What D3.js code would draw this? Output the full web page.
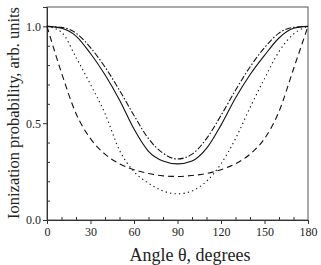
<!DOCTYPE html>
<html>
<head>
<meta charset="utf-8">
<script src="https://cdn.jsdelivr.net/npm/d3@7"></script>
<style>
  body { margin: 0; background: #fff; }
  text { font-family: "Liberation Serif", "Times New Roman", serif; fill: #222; }
</style>
</head>
<body>
<div class="chart"></div>
<script>
// angles in degrees, probabilities
const angles = [0, 10, 20, 30, 40, 50, 60, 70, 80, 90, 100, 110, 120, 130, 140, 150, 160, 170, 180];
const solid = [1.0, 0.99, 0.95, 0.86, 0.75, 0.62, 0.47, 0.355, 0.305, 0.29, 0.305, 0.37, 0.49, 0.63, 0.75, 0.85, 0.94, 0.99, 1.0];
const dashDot = [1.0, 0.995, 0.965, 0.89, 0.79, 0.67, 0.54, 0.42, 0.345, 0.315, 0.34, 0.42, 0.54, 0.67, 0.79, 0.89, 0.965, 0.995, 1.0];
const dashed = [1.0, 0.76, 0.55, 0.42, 0.34, 0.29, 0.26, 0.24, 0.228, 0.225, 0.23, 0.24, 0.26, 0.29, 0.34, 0.42, 0.56, 0.78, 1.0];
const dotted = [1.0, 0.97, 0.84, 0.70, 0.55, 0.36, 0.25, 0.19, 0.15, 0.135, 0.15, 0.20, 0.29, 0.42, 0.58, 0.73, 0.87, 0.96, 1.0];

const xTicks = [0, 30, 60, 90, 120, 150, 180];
const yTicks = [0.0, 0.5, 1.0];

const width = 321, height = 265;
const margin = {top: 7, right: 13, bottom: 45, left: 47};

const svg = d3.select('.chart').append('svg')
    .attr('width', width)
    .attr('height', height);

const x = d3.scaleLinear().domain([0, 180]).range([margin.left, width - margin.right]);
const y = d3.scaleLinear().domain([0, 1.1]).range([height - margin.bottom, margin.top]);

// frame
svg.append('rect')
    .attr('x', x(0)).attr('y', y(1.1))
    .attr('width', x(180) - x(0)).attr('height', y(0) - y(1.1))
    .attr('fill', 'none').attr('stroke', '#555').attr('stroke-width', 1);

// minor ticks (inside)
const xMinor = d3.range(0, 181, 10).filter(d => d % 30 !== 0);
svg.append('g')
    .attr('transform', `translate(0,${y(0)})`)
    .call(d3.axisBottom(x).tickValues(xMinor).tickSize(-3).tickFormat(''))
    .call(g => g.select('.domain').remove())
    .selectAll('line').attr('stroke', '#333');

const yMinor = d3.range(1, 11).map(d => d / 10).filter(d => Math.abs(d - 0.5) > 1e-6 && Math.abs(d - 1) > 1e-6);
svg.append('g')
    .attr('transform', `translate(${x(0)},0)`)
    .call(d3.axisLeft(y).tickValues(yMinor).tickSize(-3).tickFormat(''))
    .call(g => g.select('.domain').remove())
    .selectAll('line').attr('stroke', '#333');

// major axes
const xAxis = svg.append('g')
    .attr('transform', `translate(0,${y(0)})`)
    .call(d3.axisBottom(x).tickValues(xTicks).tickSize(4).tickPadding(3).tickFormat(d3.format('d')));
xAxis.select('.domain').attr('stroke', '#333');
xAxis.selectAll('line').attr('stroke', '#333');
xAxis.selectAll('text').attr('font-size', 12).attr('font-family', 'Liberation Serif').attr('fill', '#222');

const yAxis = svg.append('g')
    .attr('transform', `translate(${x(0)},0)`)
    .call(d3.axisLeft(y).tickValues(yTicks).tickSize(4).tickPadding(2).tickFormat(d3.format('.1f')));
yAxis.select('.domain').attr('stroke', '#333');
yAxis.selectAll('line').attr('stroke', '#333');
yAxis.selectAll('text').attr('font-size', 12).attr('font-family', 'Liberation Serif').attr('fill', '#222');

// curves
const series = [
    {name: 'solid', values: solid, dash: null},
    {name: 'dashDot', values: dashDot, dash: '6,2,1.5,2'},
    {name: 'dashed', values: dashed, dash: '6,4'},
    {name: 'dotted', values: dotted, dash: '1.3,3.2'}
];

const line = d3.line()
    .x(d => x(d[0]))
    .y(d => y(d[1]))
    .curve(d3.curveMonotoneX);

svg.append('g').selectAll('path')
    .data(series)
    .enter()
    .append('path')
    .attr('fill', 'none')
    .attr('stroke', '#111')
    .attr('stroke-width', 1.1)
    .attr('stroke-dasharray', d => d.dash)
    .attr('d', d => line(angles.map((a, i) => [a, d.values[i]])));

// axis titles
svg.append('text')
    .attr('x', 190)
    .attr('y', 261)
    .attr('text-anchor', 'middle')
    .attr('font-size', 18)
    .text('Angle θ, degrees');

svg.append('text')
    .attr('transform', `translate(19,113) rotate(-90)`)
    .attr('text-anchor', 'middle')
    .attr('font-size', 16.5)
    .text('Ionization probability, arb. units');
</script>
</body>
</html>
